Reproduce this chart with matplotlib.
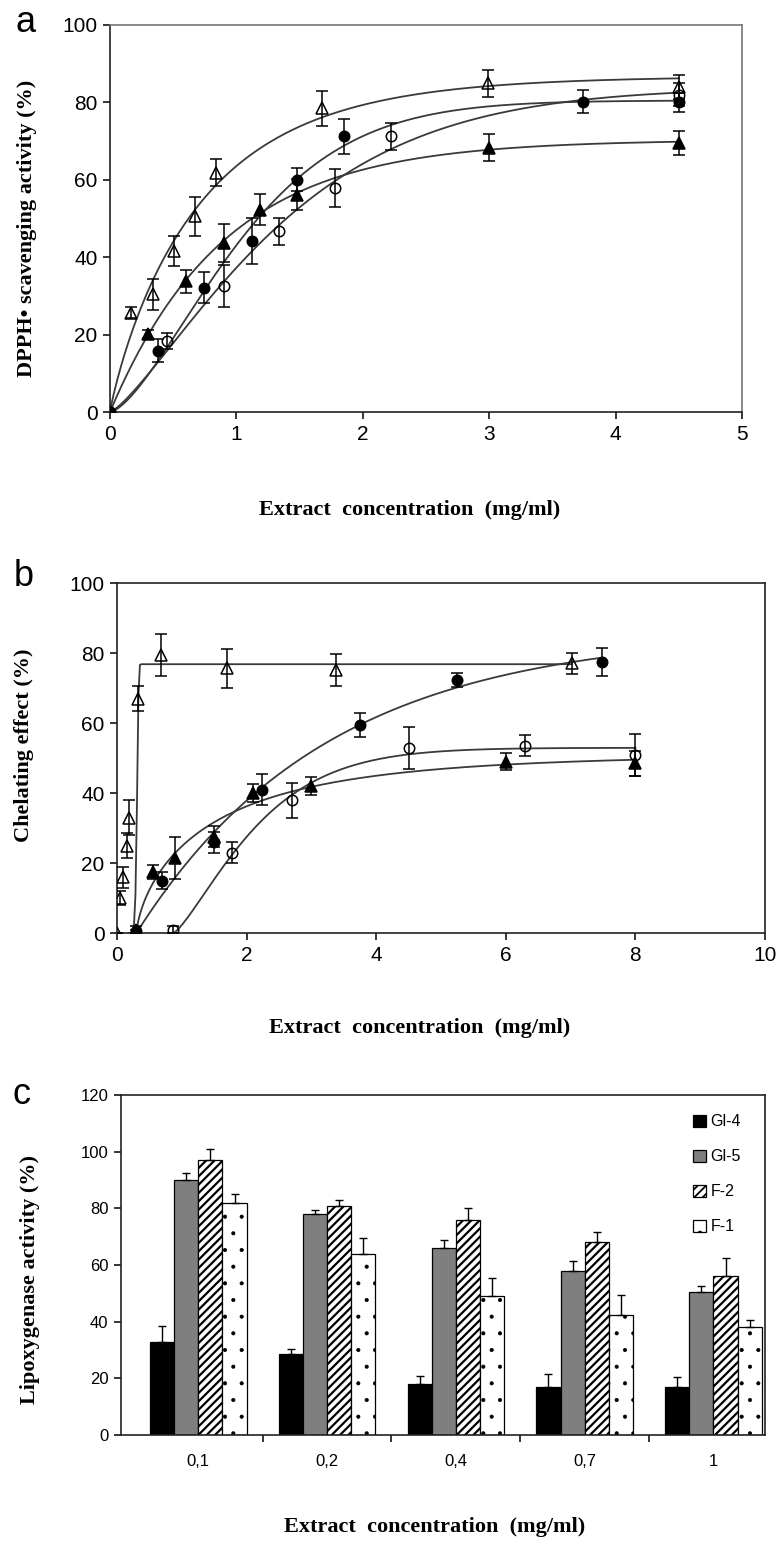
import numpy as np
import matplotlib
matplotlib.use("Agg")
import matplotlib.pyplot as plt

# ---------------- data: panel a (DPPH scavenging) ----------------
a_otri_x = [0, 0.17, 0.34, 0.51, 0.67, 0.84, 1.68, 2.99, 4.5]
a_otri_y = [0, 25.7, 30.4, 41.6, 50.6, 61.8, 78.5, 84.9, 84.0]
a_otri_e = [0, 1.5, 4, 4, 5, 3.5, 4.5, 3.5, 3]

a_ftri_x = [0, 0.30, 0.60, 0.90, 1.19, 1.48, 3.0, 4.5]
a_ftri_y = [0, 20.1, 33.8, 43.7, 52.3, 56.2, 68.3, 69.5]
a_ftri_e = [0, 1, 3, 5, 4, 4, 3.5, 3]

a_fcir_x = [0, 0.38, 0.74, 1.12, 1.48, 1.85, 3.74, 4.5]
a_fcir_y = [0, 15.8, 32.1, 44.2, 60.0, 71.2, 80.2, 80.0]
a_fcir_e = [0, 3, 4, 6, 3, 4.5, 3, 2.5]

a_ocir_x = [0, 0.45, 0.90, 1.34, 1.78, 2.22, 4.5]
a_ocir_y = [0, 18.4, 32.6, 46.7, 57.9, 71.2, 82.0]
a_ocir_e = [0, 2, 5.5, 3.5, 5, 3.5, 3]

# ---------------- data: panel b (chelating effect) ----------------
b_otri_x = [0, 0.05, 0.10, 0.15, 0.18, 0.33, 0.68, 1.69, 3.38, 7.02]
b_otri_y = [0, 10.0, 16.0, 25.0, 33.0, 67.0, 79.4, 75.6, 75.1, 77.1]
b_otri_e = [0, 2, 3, 3.5, 5, 3.5, 6, 5.5, 4.5, 3]

b_ftri_x = [0.30, 0.56, 0.90, 1.49, 2.10, 3.0, 6.0, 8.0]
b_ftri_y = [1.0, 17.5, 21.5, 27.5, 40.0, 42.0, 49.0, 48.5]
b_ftri_e = [1, 2, 6, 3, 2.5, 2.5, 2.5, 3.5]

b_fcir_x = [0.30, 0.69, 1.50, 2.23, 3.75, 5.25, 7.48]
b_fcir_y = [0.5, 15.0, 26.0, 41.0, 59.5, 72.3, 77.5]
b_fcir_e = [0.5, 2.5, 3, 4.5, 3.5, 2, 4]

b_ocir_x = [0.87, 1.77, 2.70, 4.50, 6.30, 8.00]
b_ocir_y = [1.0, 23.0, 38.0, 53.0, 53.5, 51.0]
b_ocir_e = [1, 3, 5, 6, 3, 6]

# ---------------- data: panel c (lipoxygenase) ----------------
c_categories = ["0,1", "0,2", "0,4", "0,7", "1"]
c_series = ["Gl-4", "Gl-5", "F-2", "F-1"]
c_gl4 = [33, 28.5, 18, 17, 17]
c_gl4_e = [5.5, 2, 3, 4.5, 3.5]
c_gl5 = [90, 78, 66, 58, 50.5]
c_gl5_e = [2.5, 1.5, 3, 3.5, 2]
c_f2 = [97, 81, 76, 68, 56]
c_f2_e = [4, 2, 4, 3.5, 6.5]
c_f1 = [82, 64, 49, 42.5, 38]
c_f1_e = [3, 5.5, 6.5, 7, 2.5]


def sat_curve(x, y, x0, fit_from=None, xmax=None, npts=300):
    """Least-squares saturation (Weibull-type) fit through the data from x0."""
    x = np.asarray(x, float)
    y = np.asarray(y, float)
    if fit_from is None:
        fit_from = x0
    m = x >= fit_from
    xs = x[m] - x0
    ys = y[m]
    best = (np.inf, None)
    Ks = np.geomspace(0.02, 20, 300)[:, None]
    for n in np.linspace(0.6, 8, 75):
        f = 1 - np.exp(-(xs[None, :] / Ks) ** n)
        A = (f @ ys) / np.einsum("ij,ij->i", f, f)
        r = np.sum((A[:, None] * f - ys[None, :]) ** 2, axis=1)
        i = np.argmin(r)
        if r[i] < best[0]:
            best = (r[i], (A[i], Ks[i, 0], n))
    A, K, n = best[1]
    if xmax is None:
        xmax = x.max()
    xx = np.linspace(x0, xmax, npts)
    return xx, A * (1 - np.exp(-((xx - x0) / K) ** n))


W, H = 780, 1545
fig = plt.figure(figsize=(W / 100, H / 100), dpi=100)

serif = ["Liberation Serif", "DejaVu Serif"]
sans = ["Liberation Sans", "DejaVu Sans"]
plt.rcParams["font.family"] = sans

LINE_C = "#3a3a3a"


def rect(l, t, r, b):
    return [l / W, 1 - b / H, (r - l) / W, (b - t) / H]


def style_axes(ax, fs):
    for s in ax.spines.values():
        s.set_linewidth(1.2)
        s.set_color("#222222")
    ax.tick_params(direction="out", length=5, width=1.1, labelsize=fs,
                   colors="black", pad=4)


def plot_series(ax, x, y, e, marker, filled, ms):
    ax.errorbar(x, y, yerr=e, fmt="none", ecolor="black", elinewidth=1.1,
                capsize=4.5, capthick=1.1, zorder=3)
    ax.plot(x, y, linestyle="none", marker=marker, ms=ms,
            mfc="black" if filled else "none", mec="black", mew=1.1,
            zorder=4)


# ---------------- panel a ----------------
axa = fig.add_axes(rect(110, 25, 742, 412))
style_axes(axa, 15)
axa.spines["top"].set_color("#777777")
axa.spines["right"].set_color("#777777")
for (x, y, e, mk, fl, ms) in [
        (a_otri_x, a_otri_y, a_otri_e, "^", False, 8.5),
        (a_ftri_x, a_ftri_y, a_ftri_e, "^", True, 8.5),
        (a_fcir_x, a_fcir_y, a_fcir_e, "o", True, 7.5),
        (a_ocir_x, a_ocir_y, a_ocir_e, "o", False, 7.5)]:
    xx, yy = sat_curve(x, y, 0.0)
    axa.plot(xx, yy, color=LINE_C, lw=1.3, zorder=2)
    plot_series(axa, x, y, e, mk, fl, ms)
axa.set_xlim(0, 5)
axa.set_ylim(0, 100)
axa.set_xticks(range(0, 6))
axa.set_yticks(range(0, 101, 20))

# ---------------- panel b ----------------
axb = fig.add_axes(rect(117, 583, 765, 933))
style_axes(axb, 15)
series_b = [
    (b_otri_x, b_otri_y, b_otri_e, "^", False, 8.5, 0.17, 0.3),
    (b_ftri_x, b_ftri_y, b_ftri_e, "^", True, 8.5, 0.30, None),
    (b_fcir_x, b_fcir_y, b_fcir_e, "o", True, 7.5, 0.30, None),
    (b_ocir_x, b_ocir_y, b_ocir_e, "o", False, 7.5, 0.87, None)]
for (x, y, e, mk, fl, ms, x0, ff) in series_b:
    xx, yy = sat_curve(x, y, x0, fit_from=ff)
    axb.plot(xx, yy, color=LINE_C, lw=1.3, zorder=2)
    plot_series(axb, x, y, e, mk, fl, ms)
axb.set_xlim(0, 10)
axb.set_ylim(0, 100)
axb.set_xticks(range(0, 11, 2))
axb.set_yticks(range(0, 101, 20))

# ---------------- panel c ----------------
axc = fig.add_axes(rect(121, 1095, 765, 1435))
style_axes(axc, 12)
xc = np.arange(len(c_categories))
bw = 0.1875
vals = [c_gl4, c_gl5, c_f2, c_f1]
errs = [c_gl4_e, c_gl5_e, c_f2_e, c_f1_e]
faces = ["black", "#7f7f7f", "white", "white"]
hatches = [None, None, "////", "."]
hatch_lw = [1.0, 1.0, 1.6, 0.5]
for i, (v, e, fc, h, lab) in enumerate(zip(vals, errs, faces, hatches, c_series)):
    plt.rcParams["hatch.linewidth"] = hatch_lw[i]
    pos = xc + (i - 1.5) * bw
    axc.bar(pos, v, width=bw, color=fc, edgecolor="black", linewidth=0.9,
            hatch=h, label=lab, zorder=2)
    axc.errorbar(pos, v, yerr=[np.zeros(len(e)), e], fmt="none",
                 ecolor="black", elinewidth=1.0, capsize=3, capthick=1.0,
                 zorder=3)
axc.set_xlim(-0.6, 4.4)
axc.set_ylim(0, 120)
axc.set_yticks(range(0, 121, 20))
axc.set_xticks(xc)
axc.set_xticklabels(c_categories)
axc.tick_params(axis="x", length=0, pad=14)
axc.set_xticks(xc[:-1] + 0.5, minor=True)
axc.tick_params(axis="x", which="minor", length=5, width=1.1, direction="out")
plt.rcParams["hatch.linewidth"] = 1.3
leg = axc.legend(loc="upper right", bbox_to_anchor=(0.985, 0.985),
                 frameon=False, fontsize=11.5, handlelength=0.8,
                 handleheight=0.8, handletextpad=0.3, labelspacing=1.25)

# ---------------- texts ----------------
lab_kw = dict(fontsize=16, fontweight="bold", family=serif,
              ha="center", va="center")
fig.text(410 / W, 1 - 510 / H, "Extract  concentration  (mg/ml)", **lab_kw)
fig.text(420 / W, 1 - 1028 / H, "Extract  concentration  (mg/ml)", **lab_kw)
fig.text(435 / W, 1 - 1527 / H, "Extract  concentration  (mg/ml)", **lab_kw)
fig.text(27 / W, 1 - 228 / H, "DPPH\u2022 scavenging activity (%)",
         rotation=90, **lab_kw)
fig.text(24 / W, 1 - 745 / H, "Chelating effect (%)", rotation=90, **lab_kw)
fig.text(30 / W, 1 - 1280 / H, "Lipoxygenase activity (%)", rotation=90,
         **lab_kw)

let_kw = dict(fontsize=26, family=sans, ha="center", va="center")
fig.text(26 / W, 1 - 22 / H, "a", **let_kw)
fig.text(24 / W, 1 - 576 / H, "b", **let_kw)
fig.text(22 / W, 1 - 1095 / H, "c", **let_kw)

fig.savefig("out.png", dpi=100)
